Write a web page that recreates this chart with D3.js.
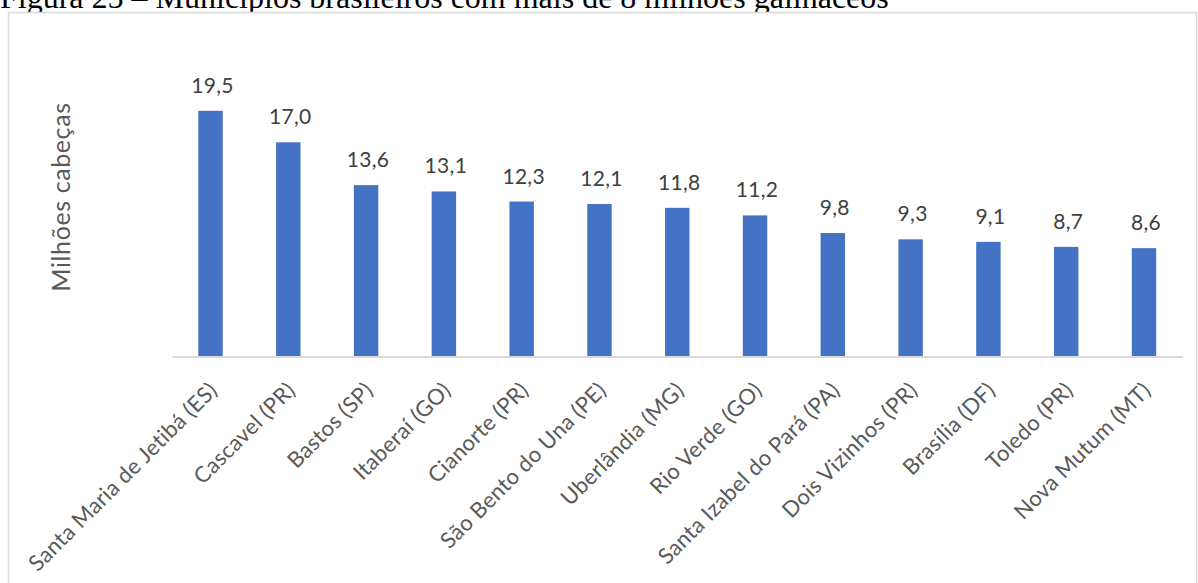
<!DOCTYPE html>
<html>
<head>
<meta charset="utf-8">
<script src="https://cdn.jsdelivr.net/npm/d3@7"></script>
<style>
  body { margin: 0; background: #fff; }
  svg { display: block; }
</style>
</head>
<body>
<div class="chart"></div>
<script>
// dados (milhões de cabeças)
const municipios = ["Santa Maria de Jetibá (ES)", "Cascavel (PR)", "Bastos (SP)", "Itaberaí (GO)",
    "Cianorte (PR)", "São Bento do Una (PE)", "Uberlândia (MG)", "Rio Verde (GO)",
    "Santa Izabel do Pará (PA)", "Dois Vizinhos (PR)", "Brasília (DF)", "Toledo (PR)", "Nova Mutum (MT)"];
const cabecas = [19.5, 17.0, 13.6, 13.1, 12.3, 12.1, 11.8, 11.2, 9.8, 9.3, 9.1, 8.7, 8.6];
const yDomain = [0, 25];
const titulo = "Figura 25 – Municípios brasileiros com mais de 8 milhões galináceos";
const yLabel = "Milhões cabeças";

const width = 1198, height = 583;
const margin = {top: 41.5, right: 15.5, bottom: 226.5, left: 172};

const svg = d3.select(".chart").append("svg")
    .attr("width", width)
    .attr("height", height);

svg.append("rect").attr("width", width).attr("height", height).attr("fill", "#fff");

// titulo cortado no topo (como na figura)
svg.append("text")
    .attr("x", 0)
    .attr("y", 8)
    .style("font-family", "'Liberation Serif', 'Times New Roman', serif")
    .style("font-size", "32px")
    .attr("fill", "#000")
    .text(titulo);

// borda da area do grafico
svg.append("rect")
    .attr("x", 8.5)
    .attr("y", 12.5)
    .attr("width", 1188)
    .attr("height", 620)
    .attr("fill", "#fff")
    .attr("stroke", "#d9d9d9")
    .attr("stroke-width", 1.5);

const xScale = d3.scaleBand()
    .domain(municipios)
    .range([margin.left, width - margin.right])
    .paddingInner(0.686)
    .paddingOuter(0.338);

const yScale = d3.scaleLinear()
    .domain(yDomain)
    .range([height - margin.bottom, margin.top]);

const fmt = d3.formatLocale({decimal: ",", thousands: ".", grouping: [3], currency: ["R$", ""]}).format(".1f");

// barras
svg.selectAll("rect.bar")
    .data(cabecas)
    .enter().append("rect")
    .attr("class", "bar")
    .attr("x", (d, i) => xScale(municipios[i]))
    .attr("y", d => yScale(d))
    .attr("width", xScale.bandwidth())
    .attr("height", d => yScale(0) - yScale(d))
    .attr("fill", "#4472c4");

// rotulos de valor
svg.selectAll("text.val")
    .data(cabecas)
    .enter().append("text")
    .attr("class", "val")
    .attr("x", (d, i) => xScale(municipios[i]) + xScale.bandwidth() / 2 + 2)
    .attr("y", d => yScale(d) - 18)
    .attr("text-anchor", "middle")
    .style("font-family", "Lato, sans-serif")
    .style("font-size", "21px")
    .style("letter-spacing", "0.3px")
    .attr("fill", "#404040")
    .text(d => fmt(d));

// eixo x
const xAxis = d3.axisBottom(xScale).tickSize(0).tickSizeOuter(0);
const gx = svg.append("g")
    .attr("class", "x-axis")
    .attr("transform", "translate(0," + yScale(0) + ")")
    .call(xAxis);

gx.select(".domain").attr("stroke", "#d9d9d9").attr("stroke-width", 2);

gx.selectAll(".tick text")
    .attr("x", 0)
    .attr("y", 0)
    .attr("dy", "0.72em")
    .attr("text-anchor", "end")
    .attr("transform", "translate(-3,24) rotate(-45)")
    .style("font-family", "Lato, sans-serif")
    .style("font-size", "22px")
    .style("letter-spacing", "0.3px")
    .attr("fill", "#595959");

// titulo do eixo y
svg.append("text")
    .attr("transform", "translate(70,197) rotate(-90)")
    .attr("text-anchor", "middle")
    .style("font-family", "Lato, sans-serif")
    .style("font-size", "25px")
    .style("letter-spacing", "0.6px")
    .attr("fill", "#595959")
    .text(yLabel);
</script>
</body>
</html>
